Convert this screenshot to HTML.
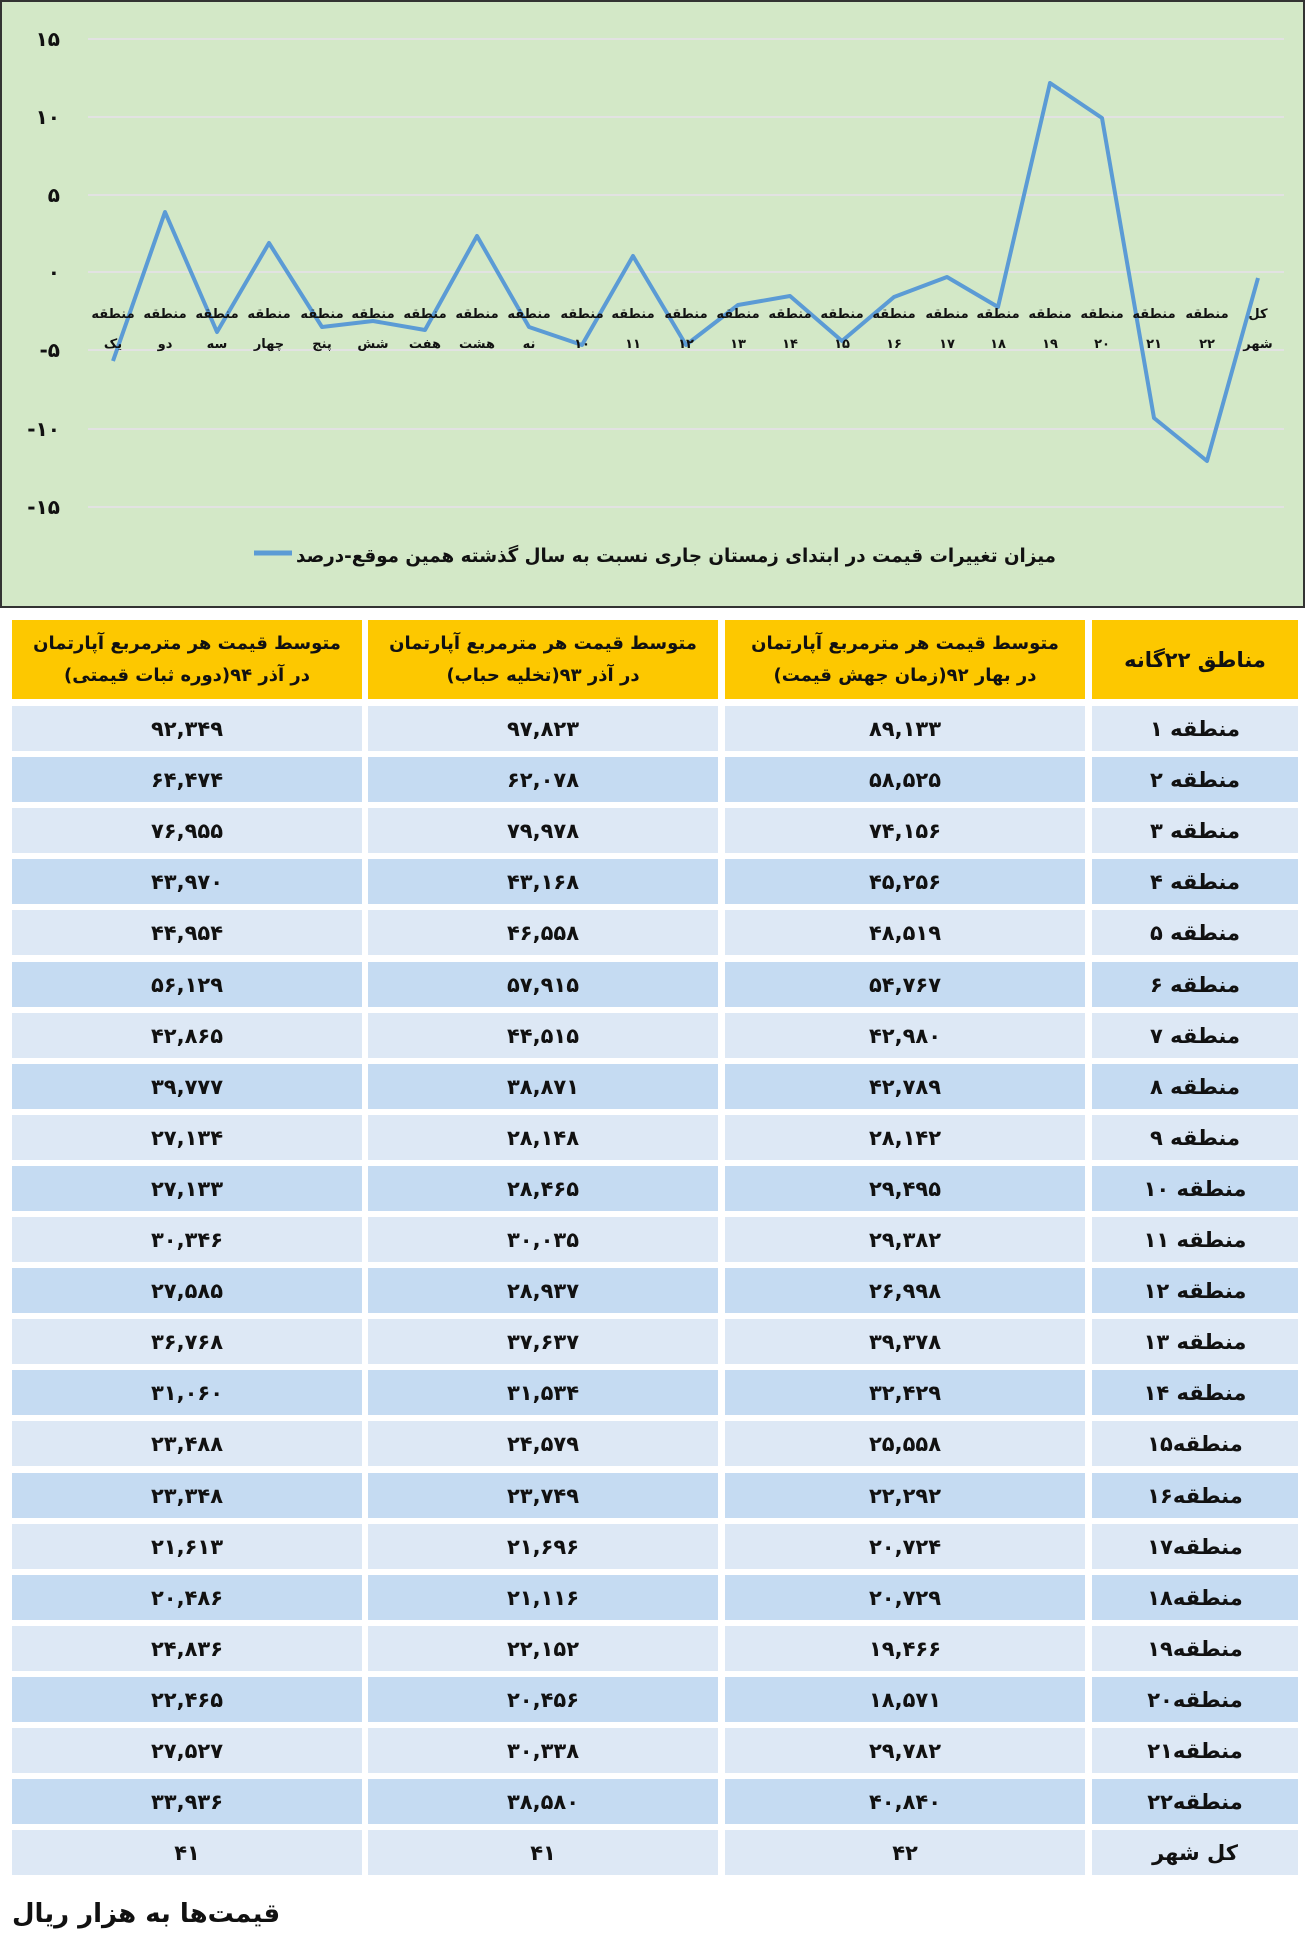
<!DOCTYPE html>
<html><head><meta charset="utf-8"><style>
*{margin:0;padding:0;box-sizing:border-box}
body{width:1306px;height:1935px;background:#fff;position:relative;overflow:hidden;font-family:"DejaVu Sans","Liberation Sans",sans-serif;font-weight:bold}
.c{position:absolute;display:flex;align-items:center;justify-content:center;text-align:center;direction:rtl;color:#111;white-space:nowrap}
.h{background:#fdc800;font-size:18px;line-height:32px;flex-direction:column}
.a{background:#dde8f5;font-size:21px}
.b{background:#c5dbf2;font-size:21px}
</style></head><body>
<svg width="1306" height="612" style="position:absolute;left:0;top:0" font-family="DejaVu Sans, sans-serif" font-weight="bold">
<rect x="1" y="1" width="1303" height="606" fill="#d3e8c7" stroke="#333" stroke-width="2"/>
<g stroke="#e2e2e2" stroke-width="2">
<line x1="88" x2="1284" y1="39" y2="39"/><line x1="88" x2="1284" y1="117" y2="117"/><line x1="88" x2="1284" y1="195" y2="195"/><line x1="88" x2="1284" y1="272" y2="272"/><line x1="88" x2="1284" y1="350" y2="350"/><line x1="88" x2="1284" y1="429" y2="429"/><line x1="88" x2="1284" y1="507" y2="507"/>
</g>
<g font-size="20" text-anchor="end" fill="#111">
<text x="60" y="46">۱۵</text><text x="60" y="124">۱۰</text><text x="60" y="202">۵</text><text x="60" y="279">۰</text><text x="60" y="357">-۵</text><text x="60" y="436">-۱۰</text><text x="60" y="514">-۱۵</text>
</g>
<polyline fill="none" stroke="#5b9bd5" stroke-width="4" stroke-linejoin="round" points="113,361 165,212 217,332 269,243 322,327 373,321 425,330 477,236 529,327 582,345 633,256 686,345 738,305 790,296 842,341 894,297 947,277 998,307 1050,83 1102,118 1154,418 1207,461 1258,278"/>
<g font-size="13" text-anchor="middle" fill="#111" direction="ltr">
<text x="113" y="318">منطقه</text><text x="113" y="348">یک</text>
<text x="165" y="318">منطقه</text><text x="165" y="348">دو</text>
<text x="217" y="318">منطقه</text><text x="217" y="348">سه</text>
<text x="269" y="318">منطقه</text><text x="269" y="348">چهار</text>
<text x="322" y="318">منطقه</text><text x="322" y="348">پنج</text>
<text x="373" y="318">منطقه</text><text x="373" y="348">شش</text>
<text x="425" y="318">منطقه</text><text x="425" y="348">هفت</text>
<text x="477" y="318">منطقه</text><text x="477" y="348">هشت</text>
<text x="529" y="318">منطقه</text><text x="529" y="348">نه</text>
<text x="582" y="318">منطقه</text><text x="582" y="348">۱۰</text>
<text x="633" y="318">منطقه</text><text x="633" y="348">۱۱</text>
<text x="686" y="318">منطقه</text><text x="686" y="348">۱۲</text>
<text x="738" y="318">منطقه</text><text x="738" y="348">۱۳</text>
<text x="790" y="318">منطقه</text><text x="790" y="348">۱۴</text>
<text x="842" y="318">منطقه</text><text x="842" y="348">۱۵</text>
<text x="894" y="318">منطقه</text><text x="894" y="348">۱۶</text>
<text x="947" y="318">منطقه</text><text x="947" y="348">۱۷</text>
<text x="998" y="318">منطقه</text><text x="998" y="348">۱۸</text>
<text x="1050" y="318">منطقه</text><text x="1050" y="348">۱۹</text>
<text x="1102" y="318">منطقه</text><text x="1102" y="348">۲۰</text>
<text x="1154" y="318">منطقه</text><text x="1154" y="348">۲۱</text>
<text x="1207" y="318">منطقه</text><text x="1207" y="348">۲۲</text>
<text x="1258" y="318">کل</text><text x="1258" y="348">شهر</text>
</g>
<line x1="254" x2="292" y1="553" y2="553" stroke="#5b9bd5" stroke-width="5"/>
<text x="676" y="562" font-size="19" text-anchor="middle" direction="ltr" fill="#111" textLength="760" lengthAdjust="spacingAndGlyphs">میزان تغییرات قیمت در ابتدای زمستان جاری نسبت به سال گذشته همین موقع-درصد</text>
</svg>
<div class="c h" style="left:12px;top:620px;width:350px;height:79px"><div>متوسط قیمت هر مترمربع آپارتمان</div><div>در آذر ۹۴(دوره ثبات قیمتی)</div></div>
<div class="c h" style="left:368px;top:620px;width:350px;height:79px"><div>متوسط قیمت هر مترمربع آپارتمان</div><div>در آذر ۹۳(تخلیه حباب)</div></div>
<div class="c h" style="left:725px;top:620px;width:360px;height:79px"><div>متوسط قیمت هر مترمربع آپارتمان</div><div>در بهار ۹۲(زمان جهش قیمت)</div></div>
<div class="c h" style="left:1092px;top:620px;width:206px;height:79px;font-size:21px">مناطق ۲۲گانه</div>
<div id="t"></div>
<script>
var d=[["منطقه ۱","۸۹,۱۳۳","۹۷,۸۲۳","۹۲,۳۴۹"],["منطقه ۲","۵۸,۵۲۵","۶۲,۰۷۸","۶۴,۴۷۴"],["منطقه ۳","۷۴,۱۵۶","۷۹,۹۷۸","۷۶,۹۵۵"],["منطقه ۴","۴۵,۲۵۶","۴۳,۱۶۸","۴۳,۹۷۰"],["منطقه ۵","۴۸,۵۱۹","۴۶,۵۵۸","۴۴,۹۵۴"],["منطقه ۶","۵۴,۷۶۷","۵۷,۹۱۵","۵۶,۱۲۹"],["منطقه ۷","۴۲,۹۸۰","۴۴,۵۱۵","۴۲,۸۶۵"],["منطقه ۸","۴۲,۷۸۹","۳۸,۸۷۱","۳۹,۷۷۷"],["منطقه ۹","۲۸,۱۴۲","۲۸,۱۴۸","۲۷,۱۳۴"],["منطقه ۱۰","۲۹,۴۹۵","۲۸,۴۶۵","۲۷,۱۳۳"],["منطقه ۱۱","۲۹,۳۸۲","۳۰,۰۳۵","۳۰,۳۴۶"],["منطقه ۱۲","۲۶,۹۹۸","۲۸,۹۳۷","۲۷,۵۸۵"],["منطقه ۱۳","۳۹,۳۷۸","۳۷,۶۳۷","۳۶,۷۶۸"],["منطقه ۱۴","۳۲,۴۲۹","۳۱,۵۳۴","۳۱,۰۶۰"],["منطقه۱۵","۲۵,۵۵۸","۲۴,۵۷۹","۲۳,۴۸۸"],["منطقه۱۶","۲۲,۲۹۲","۲۳,۷۴۹","۲۳,۳۴۸"],["منطقه۱۷","۲۰,۷۲۴","۲۱,۶۹۶","۲۱,۶۱۳"],["منطقه۱۸","۲۰,۷۲۹","۲۱,۱۱۶","۲۰,۴۸۶"],["منطقه۱۹","۱۹,۴۶۶","۲۲,۱۵۲","۲۴,۸۳۶"],["منطقه۲۰","۱۸,۵۷۱","۲۰,۴۵۶","۲۲,۴۶۵"],["منطقه۲۱","۲۹,۷۸۲","۳۰,۳۳۸","۲۷,۵۲۷"],["منطقه۲۲","۴۰,۸۴۰","۳۸,۵۸۰","۳۳,۹۳۶"],["کل شهر","۴۲","۴۱","۴۱"]];
var cols=[[1092,206],[725,360],[368,350],[12,350]],h="";
d.forEach(function(r,i){var y=Math.round(706+i*51.1),cl=i%2?"b":"a";
r.forEach(function(v,j){h+='<div class="c '+cl+'" style="left:'+cols[j][0]+'px;top:'+y+'px;width:'+cols[j][1]+'px;height:45px">'+v+'</div>';});});
document.getElementById("t").innerHTML=h;
</script>
<div class="c" style="left:12px;top:1895px;width:270px;height:38px;font-size:26px;justify-content:flex-end">قیمت‌ها به هزار ریال</div>
</body></html>
